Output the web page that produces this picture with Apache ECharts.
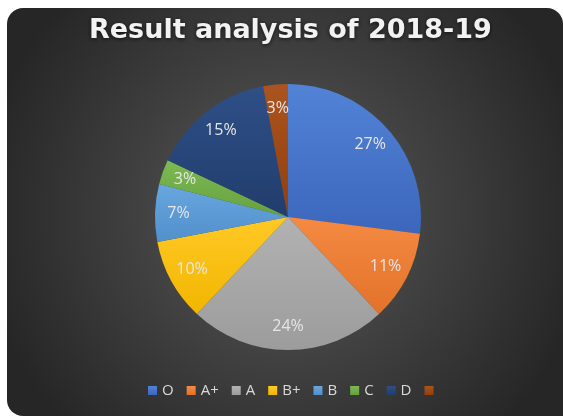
<!DOCTYPE html>
<html>
<head>
<meta charset="utf-8">
<script src="https://cdn.jsdelivr.net/npm/echarts@6/dist/echarts.min.js"></script>
<style>
  html, body { margin: 0; padding: 0; background: #ffffff; }
  #chart { width: 563px; height: 416px; }
</style>
</head>
<body>
<div id="chart"></div>
<script>
const grades = ["O", "A+", "A", "B+", "B", "C", "D", " "];
const shares = [27, 11, 24, 10, 7, 3, 15, 3];
// [top, bottom] shade of each slice
const sliceColors = [
  ["#5283d6", "#3b66bc"],
  ["#f58a42", "#e2722a"],
  ["#b2b2b2", "#9c9c9c"],
  ["#ffc926", "#f2b600"],
  ["#67a6de", "#5290cc"],
  ["#7cba53", "#66a13f"],
  ["#2e4f87", "#213d6c"],
  ["#ab5420", "#923f0b"]
];

const chart = echarts.init(document.getElementById("chart"));

const shade = c => new echarts.graphic.LinearGradient(0, 0, 0, 1, [
  { offset: 0, color: c[0] },
  { offset: 1, color: c[1] }
]);

const pieData = grades.map((name, i) => ({
  name,
  value: shares[i],
  itemStyle: { color: shade(sliceColors[i]) }
}));

chart.setOption({
  backgroundColor: "#ffffff",
  graphic: [{
    type: "rect",
    z: -10,
    silent: true,
    shape: { x: 7, y: 8, width: 556, height: 408, r: [16, 16, 0, 16] },
    style: {
      fill: new echarts.graphic.RadialGradient(0.5, 0.5, 0.75, [
        { offset: 0, color: "#5a5a5a" },
        { offset: 1, color: "#262626" }
      ])
    }
  }],
  title: {
    text: "Result analysis of 2018-19",
    left: 84,
    top: 12,
    textStyle: {
      fontFamily: "DejaVu Sans",
      fontWeight: "bold",
      fontSize: 27,
      color: "#f2f2f2",
      textShadowColor: "rgba(0,0,0,0.7)",
      textShadowBlur: 4,
      textShadowOffsetY: 1
    }
  },
  legend: {
    bottom: 13,
    left: 143,
    itemWidth: 9,
    itemHeight: 9,
    itemGap: 13,
    icon: "rect",
    textStyle: { color: "#d9d9d9", fontSize: 15, fontFamily: "Open Sans" }
  },
  series: [
    {
      type: "pie",
      center: [288, 217],
      radius: [0, 133],
      startAngle: 90,
      clockwise: true,
      data: pieData,
      label: { show: false },
      labelLine: { show: false },
      emphasis: { disabled: true }
    },
    {
      // transparent ring that carries the percentage labels near the rim
      type: "pie",
      center: [288, 217],
      radius: [80, 133],
      startAngle: 90,
      silent: true,
      legendHoverLink: false,
      data: grades.map((name, i) => ({ name, value: shares[i] })),
      itemStyle: { color: "rgba(0,0,0,0)" },
      label: {
        show: true,
        position: "inside",
        formatter: p => p.value + "%",
        color: "#e6e6e6",
        fontSize: 16,
        fontFamily: "Open Sans"
      },
      labelLine: { show: false },
      emphasis: { disabled: true }
    }
  ]
});
</script>
</body>
</html>
